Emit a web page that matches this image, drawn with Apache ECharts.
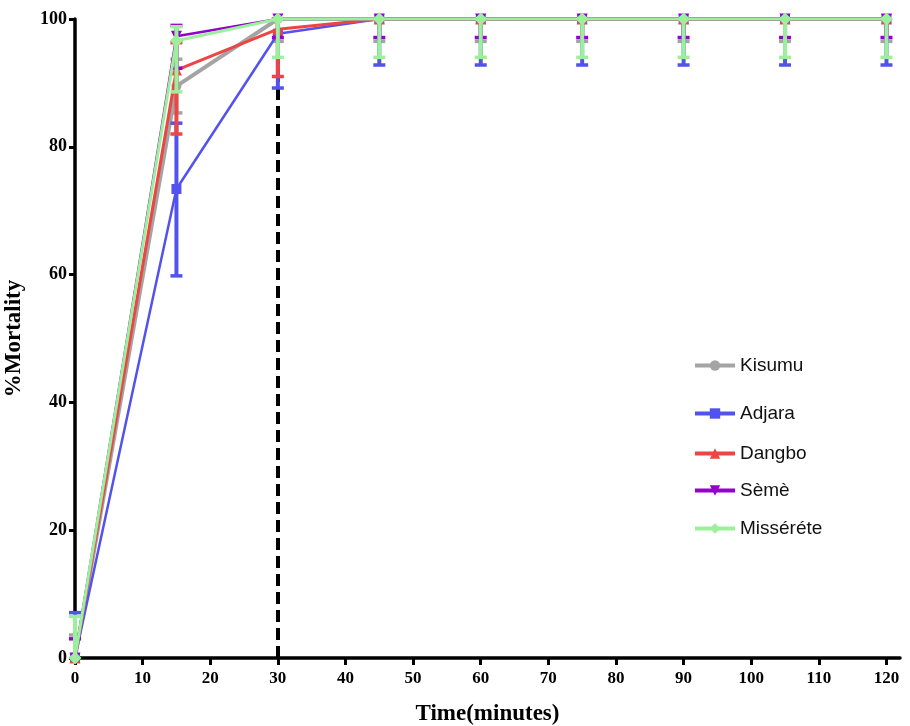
<!DOCTYPE html>
<html>
<head>
<meta charset="utf-8">
<script src="https://cdn.jsdelivr.net/npm/echarts@6/dist/echarts.min.js"></script>
<style>html,body{margin:0;padding:0;background:#fff;}#c{width:910px;height:726px;}</style>
</head>
<body>
<div id="c"></div>
<script>
var times = [0, 15, 30, 45, 60, 75, 90, 105, 120];
var xTicks = [0, 10, 20, 30, 40, 50, 60, 70, 80, 90, 100, 110, 120];
var yTicks = [0, 20, 40, 60, 80, 100];

var seriesNames = ['Kisumu', 'Adjara', 'Dangbo', 'Sèmè', 'Misséréte'];

var kisumuMean = [0, 89.5, 100, 100, 100, 100, 100, 100, 100];
var kisumuLow  = [0, 85.3, 96.5, 96.5, 96.5, 96.5, 96.5, 96.5, 96.5];
var kisumuHigh = [3.6, 93.7, 100, 100, 100, 100, 100, 100, 100];

var adjaraMean = [0, 73.4, 97.7, 100, 100, 100, 100, 100, 100];
var adjaraLow  = [0, 59.8, 89.2, 92.8, 92.8, 92.8, 92.8, 92.8, 92.8];
var adjaraHigh = [7.1, 83.7, 100, 100, 100, 100, 100, 100, 100];

var dangboMean = [0, 92.0, 98.4, 100, 100, 100, 100, 100, 100];
var dangboLow  = [0, 82.0, 91.0, 100, 100, 100, 100, 100, 100];
var dangboHigh = [0, 96.3, 100, 100, 100, 100, 100, 100, 100];

var semeMean = [0, 97.3, 100, 100, 100, 100, 100, 100, 100];
var semeLow  = [0, 92.3, 97.1, 97.1, 97.1, 97.1, 97.1, 97.1, 97.1];
var semeHigh = [3.0, 99.0, 100, 100, 100, 100, 100, 100, 100];

var misMean = [0, 96.6, 100, 100, 100, 100, 100, 100, 100];
var misLow  = [0, 88.6, 94.0, 94.0, 94.0, 94.0, 94.0, 94.0, 94.0];
var misHigh = [6.5, 98.8, 100, 100, 100, 100, 100, 100, 100];

var means = [kisumuMean, adjaraMean, dangboMean, semeMean, misMean];
var lows = [kisumuLow, adjaraLow, dangboLow, semeLow, misLow];
var highs = [kisumuHigh, adjaraHigh, dangboHigh, semeHigh, misHigh];

var colors = ['#A4A4A4', '#5252EE', '#EE4444', '#9400CC', '#9CF09C'];
var symbols = ['circle', 'rect', 'triangle', 'path://M0,0 L10,0 L5,9 Z', 'diamond'];
var symbolSizes = [10, 10, 11, 11, 13];
var lineWidths = [4, 2.5, 3, 2.5, 3];
var legendTops = [351, 399, 439, 476, 514];

function errRender(color) {
  return function (params, api) {
    var x = api.value(0), lo = api.value(1), hi = api.value(2), m = api.value(3);
    var pLo = api.coord([x, lo]), pHi = api.coord([x, hi]);
    var children = [];
    var capHalf = 6;
    if (hi - lo > 0.01) {
      children.push({ type: 'line', shape: { x1: pLo[0], y1: pLo[1], x2: pHi[0], y2: pHi[1] },
        style: { stroke: color, lineWidth: 4 } });
      if (m - lo > 0.01) children.push({ type: 'line', shape: { x1: pLo[0] - capHalf, y1: pLo[1], x2: pLo[0] + capHalf, y2: pLo[1] },
        style: { stroke: color, lineWidth: 3.5 } });
      if (hi - m > 0.01) children.push({ type: 'line', shape: { x1: pHi[0] - capHalf, y1: pHi[1], x2: pHi[0] + capHalf, y2: pHi[1] },
        style: { stroke: color, lineWidth: 3.5 } });
    }
    return { type: 'group', children: children };
  };
}

var series = [];
var legends = [];
for (var i = 0; i < seriesNames.length; i++) {
  var errData = [];
  var lineData = [];
  for (var j = 0; j < times.length; j++) {
    errData.push([times[j], lows[i][j], highs[i][j], means[i][j]]);
    lineData.push([times[j], means[i][j]]);
  }
  series.push({
    type: 'custom', name: seriesNames[i] + ' err', renderItem: errRender(colors[i]),
    data: errData, z: 3 + i * 2, clip: false, silent: true,
    encode: { x: 0, y: [1, 2] }
  });
  series.push({
    type: 'line', name: seriesNames[i], data: lineData, z: 4 + i * 2,
    symbol: symbols[i], symbolSize: symbolSizes[i], showAllSymbol: true,
    color: colors[i], lineStyle: { color: colors[i], width: lineWidths[i] },
    itemStyle: { color: colors[i] }, clip: false, animation: false
  });
  legends.push({
    data: [seriesNames[i]], left: 688, top: legendTops[i], orient: 'vertical',
    itemWidth: 40, itemHeight: 13, itemGap: 6,
    lineStyle: { width: 4 },
    textStyle: { fontFamily: 'Liberation Sans', fontSize: 19, color: '#111' }
  });
}
// vertical dashed reference line at 30 min
series.push({
  type: 'line', name: 'ref', data: [], z: 20, silent: true,
  markLine: { symbol: 'none', silent: true, label: { show: false },
    lineStyle: { color: '#000', width: 4, type: [12, 6] },
    data: [{ xAxis: 30 }] }
});

var chart = echarts.init(document.getElementById('c'), null, { renderer: 'canvas' });
chart.setOption({
  animation: false,
  backgroundColor: '#fff',
  legend: legends,
  grid: { left: 75, right: 10, top: 19, bottom: 68, containLabel: false, outerBoundsMode: 'none' },
  xAxis: {
    type: 'value', min: 0, max: 122,
    name: 'Time(minutes)', nameLocation: 'middle', nameGap: 45,
    nameTextStyle: { fontFamily: 'Liberation Serif', fontWeight: 'bold', fontSize: 23, color: '#000' },
    axisLine: { lineStyle: { color: '#000', width: 3.5 } },
    axisTick: { length: 7, lineStyle: { color: '#000', width: 3 }, customValues: xTicks },
    axisLabel: { customValues: xTicks, fontFamily: 'Liberation Serif', fontWeight: 'bold', fontSize: 17, color: '#000', margin: 12 },
    splitLine: { show: false }
  },
  yAxis: {
    type: 'value', min: 0, max: 100, interval: 20,
    name: '%Mortality', nameLocation: 'middle', nameGap: 49,
    nameTextStyle: { fontFamily: 'Liberation Serif', fontWeight: 'bold', fontSize: 23, color: '#000' },
    axisLine: { show: true, lineStyle: { color: '#000', width: 3.5 } },
    axisTick: { show: true, length: 6, lineStyle: { color: '#000', width: 3 } },
    axisLabel: { fontFamily: 'Liberation Serif', fontWeight: 'bold', fontSize: 18, color: '#000', margin: 8 },
    splitLine: { show: false }
  },
  series: series
});
</script>
</body>
</html>
